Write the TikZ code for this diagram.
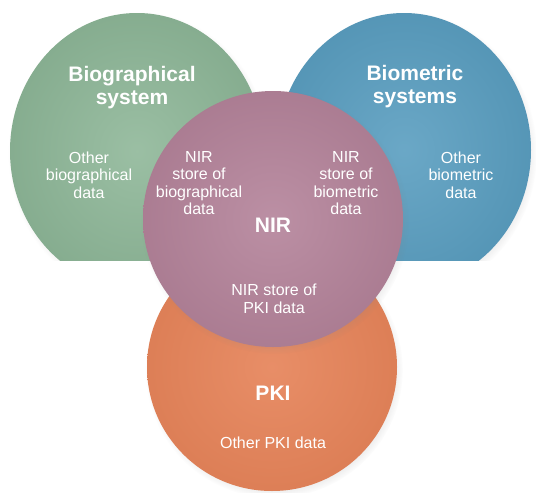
\documentclass[tikz,border=0pt]{standalone}
\usepackage{fontspec}
\setmainfont{Liberation Sans}
\usetikzlibrary{shadows,fadings}

\definecolor{biogreen}{HTML}{8DB697}
\definecolor{biomblue}{HTML}{5A9EC0}
\definecolor{nirpink}{HTML}{B4839A}
\definecolor{pkiorange}{HTML}{E6845A}

\begin{document}
\begin{tikzpicture}[x=1pt,y=-1pt,
  headtext/.style={text=white,font=\bfseries\fontsize{21}{23}\selectfont,align=center},
  smalltext/.style={text=white,font=\fontsize{16}{17.5}\selectfont,align=center},
  ball/.style={circular drop shadow={shadow xshift=2pt,shadow yshift=-3pt,shadow scale=1.03,opacity=.3}}]
\useasboundingbox (0,0) rectangle (536,493);

\shade[ball,inner color=biogreen!88!white,outer color=biogreen!95!black]
    (137,151) ellipse [x radius=127pt,y radius=138pt];
\shade[ball,inner color=biomblue!90!white,outer color=biomblue!95!black]
    (404,150) ellipse [x radius=127pt,y radius=137pt];

\fill[white] (0,261) rectangle (536,493);

\shade[ball,inner color=pkiorange!92!white,outer color=pkiorange!96!black]
    (272,367) ellipse [x radius=125pt,y radius=124pt];
\shade[ball,inner color=nirpink!90!white,outer color=nirpink!95!black]
    (273,219) ellipse [x radius=130pt,y radius=128pt];

\node[headtext] (biotitle) at (132,88) {Biographical\\system};
\node[headtext] (biomtitle) at (415,87) {Biometric\\systems};
\node[headtext] (nirtitle) at (273,225) {NIR};
\node[headtext] (pkititle) at (273,393) {PKI};

\node[smalltext] (biodata) at (89,175) {Other\\biographical\\data};
\node[smalltext] (nirbio) at (199,183) {NIR\\store of\\biographical\\data};
\node[smalltext] (nirbiom) at (346,183) {NIR\\store of\\biometric\\data};
\node[smalltext] (biomdata) at (461,175) {Other\\biometric\\data};
\node[smalltext] (nirpki) at (274,299) {NIR store of\\PKI data};
\node[smalltext] (pkidata) at (273,443) {Other PKI data};
\end{tikzpicture}
\end{document}
